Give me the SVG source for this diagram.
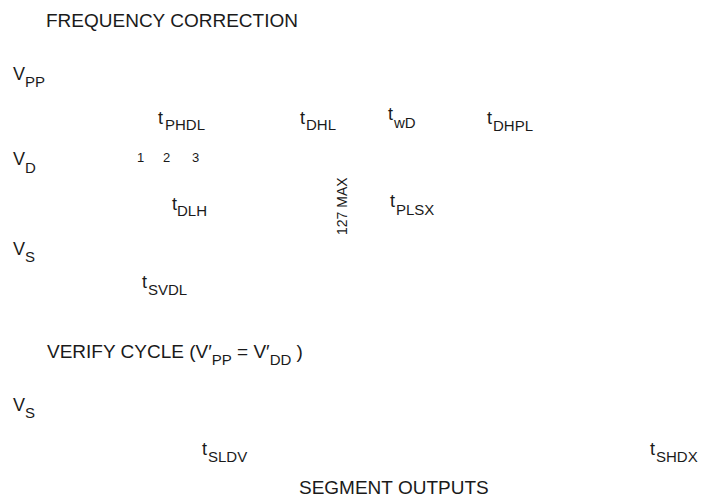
<svg xmlns="http://www.w3.org/2000/svg" width="706" height="500" viewBox="0 0 706 500">
<style>
text{font-family:"Liberation Sans",Arial,sans-serif;fill:#1a1a1a}
.t{font-size:19px}
.m{font-size:18px}
.s{font-size:15px}
.n{font-size:13px}
.r{font-size:14px}
</style>
<rect width="706" height="500" fill="#fff"/>
<g id="title"><text class="t" x="46" y="27">FREQUENCY CORRECTION</text></g>
<g id="vpp"><text class="m" x="13" y="80">V<tspan class="s" dy="7">PP</tspan></text></g>
<g id="tphdl"><text class="m" x="158" y="124">t<tspan class="s" dx="2" dy="6">PHDL</tspan></text></g>
<g id="tdhl"><text class="m" x="300" y="124">t<tspan class="s" dx="1" dy="6">DHL</tspan></text></g>
<g id="twd"><text class="m" x="388" y="120">t<tspan class="s" dx="1" dy="8">wD</tspan></text></g>
<g id="tdhpl"><text class="m" x="487" y="124">t<tspan class="s" dx="1" dy="7">DHPL</tspan></text></g>
<g id="vd"><text class="m" x="13" y="165">V<tspan class="s" dy="8">D</tspan></text></g>
<g id="nums"><text class="n" x="137" y="162">1</text><text class="n" x="163" y="162">2</text><text class="n" x="192" y="162">3</text></g>
<g id="max"><text class="r" transform="translate(347,235) rotate(-90)">127 MAX</text></g>
<g id="tdlh"><text class="m" x="172" y="210">t<tspan class="s" dy="6">DLH</tspan></text></g>
<g id="tplsx"><text class="m" x="390" y="207">t<tspan class="s" dx="1" dy="8">PLSX</tspan></text></g>
<g id="vs1"><text class="m" x="13" y="255">V<tspan class="s" dy="7">S</tspan></text></g>
<g id="tsvdl"><text class="m" x="142" y="288">t<tspan class="s" dx="1" dy="7">SVDL</tspan></text></g>
<g id="verify"><text class="t" x="47" y="358">VERIFY CYCLE (V′<tspan class="s" dy="7">PP</tspan><tspan dy="-7"> = V′</tspan><tspan class="s" dy="7">DD</tspan><tspan dy="-7"> )</tspan></text></g>
<g id="vs2"><text class="m" x="13" y="411">V<tspan class="s" dy="7">S</tspan></text></g>
<g id="tsldv"><text class="m" x="202" y="455">t<tspan class="s" dx="1" dy="7">SLDV</tspan></text></g>
<g id="tshdx"><text class="m" x="650" y="455">t<tspan class="s" dx="1" dy="7">SHDX</tspan></text></g>
<g id="seg"><text class="t" x="299" y="494">SEGMENT OUTPUTS</text></g>
<g id="connectors"></g>
</svg>
